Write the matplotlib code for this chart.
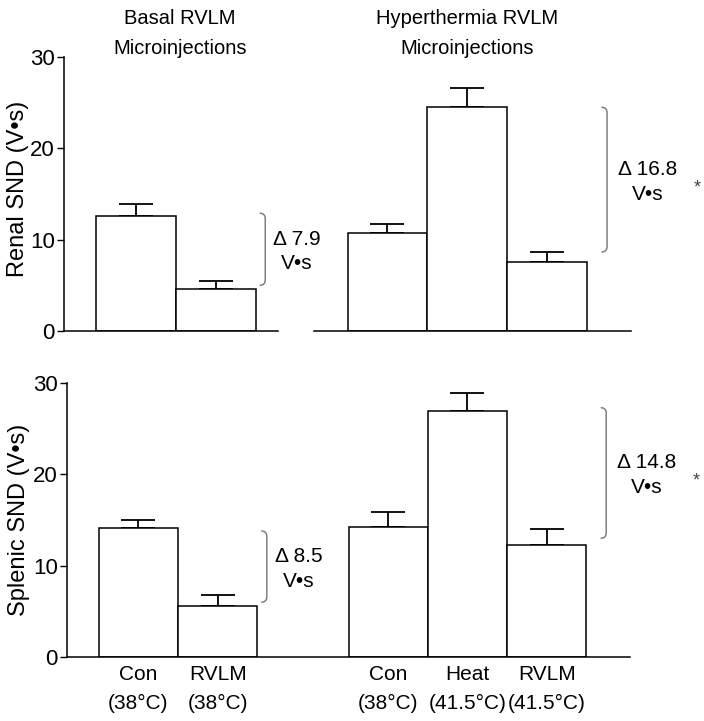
import matplotlib
matplotlib.use("Agg")
import matplotlib.pyplot as plt
from matplotlib.path import Path
from matplotlib.patches import PathPatch

plt.rcParams['font.family'] = ['Liberation Sans', 'DejaVu Sans']

# data
groups = ["Con\n(38°C)", "RVLM\n(38°C)", "Con\n(38°C)", "Heat\n(41.5°C)", "RVLM\n(41.5°C)"]
renal_mean = [12.6, 4.6, 10.7, 24.5, 7.6]
renal_sem = [1.3, 0.9, 1.0, 2.1, 1.0]
splenic_mean = [14.1, 5.6, 14.2, 26.9, 12.3]
splenic_sem = [0.9, 1.2, 1.7, 2.0, 1.7]

renal_delta = ["7.9", "16.8"]
splenic_delta = ["8.5", "14.8"]
renal_brace = [(12.9, 5.0), (24.5, 8.65)]
splenic_brace = [(13.8, 6.0), (27.3, 13.0)]

xpos = [0.9, 1.9, 4.05, 5.05, 6.05]
xmax = 7.1
brace_x = [2.52, 6.8]
text_x = [2.92, 7.31]
star_x = 7.93

fig = plt.figure(figsize=(7.04, 7.21), dpi=100)
W, H = 704, 721


def brace(ax, x, ytop, ybot):
    dx, dy = 0.07, 0.6
    verts = [(x - dx, ytop), (x, ytop), (x, ytop - dy),
             (x, ybot + dy), (x, ybot), (x - dx, ybot)]
    codes = [Path.MOVETO, Path.CURVE3, Path.CURVE3,
             Path.LINETO, Path.CURVE3, Path.CURVE3]
    ax.add_patch(PathPatch(Path(verts, codes), fc='none', ec='#808080',
                           lw=1.1, clip_on=False))


def panel(rect, means, sems, deltas, braces, ylabel, split_base, show_x):
    ax = fig.add_axes(rect)
    ax.bar(xpos, means, width=1.0, color='white', edgecolor='black',
           linewidth=1.1, zorder=2)
    ax.errorbar(xpos, means, yerr=[[0] * len(sems), sems], fmt='none',
                ecolor='black', elinewidth=1.3, capsize=12, capthick=1.3,
                zorder=1)
    ax.set_xlim(0, xmax)
    ax.set_ylim(0, 30)
    ax.set_yticks([0, 10, 20, 30])
    ax.tick_params(axis='y', direction='out', length=5, width=1,
                   labelsize=16, pad=1.5)
    for s in ['top', 'right']:
        ax.spines[s].set_visible(False)
    ax.spines['left'].set_linewidth(1.1)
    if split_base:
        ax.spines['bottom'].set_visible(False)
        ax.plot([0, 2.68], [0, 0], color='black', lw=1.1, clip_on=False)
        ax.plot([3.13, xmax], [0, 0], color='black', lw=1.1, clip_on=False)
    else:
        ax.spines['bottom'].set_linewidth(1.1)
    ax.set_xticks(xpos)
    if show_x:
        ax.set_xticklabels(groups, fontsize=15, linespacing=1.65)
        ax.tick_params(axis='x', length=0, pad=6)
    else:
        ax.set_xticklabels([])
        ax.tick_params(axis='x', length=0)
    ax.set_ylabel(ylabel, fontsize=17)
    for i in range(2):
        top, bot = braces[i]
        brace(ax, brace_x[i], top, bot)
        mid = (top + bot) / 2
        ax.text(text_x[i], mid + 1.1, "Δ " + deltas[i], fontsize=15,
                ha='center', va='center')
        ax.text(text_x[i], mid - 1.6, "V•s", fontsize=15,
                ha='center', va='center')
    ax.text(star_x, (braces[1][0] + braces[1][1]) / 2 - 0.9, "*",
            fontsize=13, ha='center', va='center', color='#444444')
    return ax


ax1 = panel([64 / W, 1 - 331 / H, 567 / W, 274 / H], renal_mean, renal_sem,
            renal_delta, renal_brace, "Renal SND (V•s)", True, False)
ax1.yaxis.set_label_coords(-0.061, 0.52)
ax2 = panel([67 / W, 1 - 657 / H, 563 / W, 274 / H], splenic_mean, splenic_sem,
            splenic_delta, splenic_brace, "Splenic SND (V•s)", False, True)
ax2.yaxis.set_label_coords(-0.066, 0.5)

fig.text(180 / W, 1 - 18 / H, "Basal RVLM", fontsize=14.5, ha='center', va='center')
fig.text(180 / W, 1 - 48 / H, "Microinjections", fontsize=14.5, ha='center', va='center')
fig.text(467 / W, 1 - 18 / H, "Hyperthermia RVLM", fontsize=14.5, ha='center', va='center')
fig.text(467 / W, 1 - 48 / H, "Microinjections", fontsize=14.5, ha='center', va='center')

fig.savefig("out.png", dpi=100, facecolor='white')
